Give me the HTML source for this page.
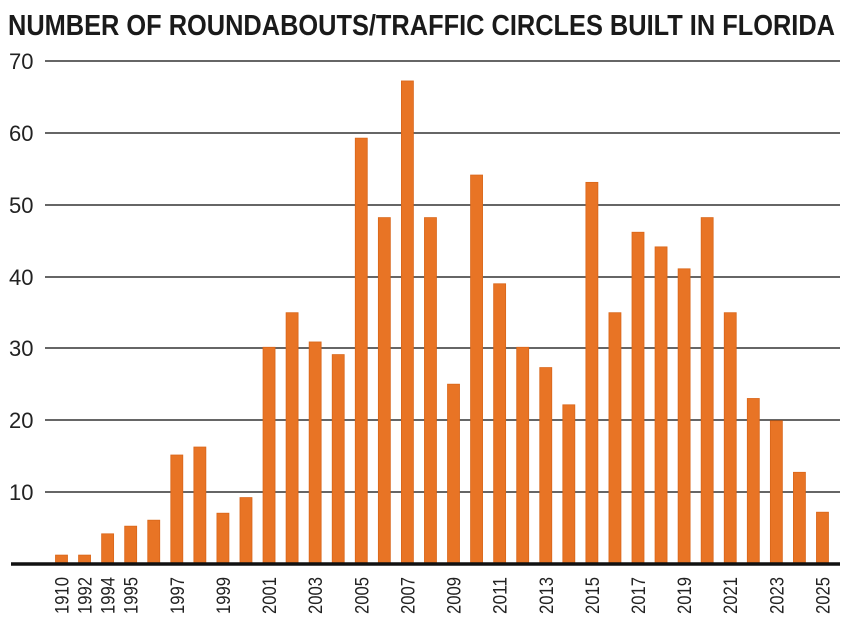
<!DOCTYPE html>
<html><head><meta charset="utf-8"><style>
html,body{margin:0;padding:0;background:#fff;}
svg{display:block;}
</style></head><body>
<svg width="850" height="623" xmlns="http://www.w3.org/2000/svg">
<text x="8" y="35" font-family="'Liberation Sans Narrow','Liberation Sans',sans-serif" font-weight="bold" font-size="29" fill="#1a1a1a" textLength="827" lengthAdjust="spacingAndGlyphs">NUMBER OF ROUNDABOUTS/TRAFFIC CIRCLES BUILT IN FLORIDA</text>
<g stroke="#333" stroke-width="1.5">
<line x1="45" y1="61" x2="840" y2="61"/>
<line x1="45" y1="133" x2="840" y2="133"/>
<line x1="45" y1="205" x2="840" y2="205"/>
<line x1="45" y1="277" x2="840" y2="277"/>
<line x1="45" y1="348" x2="840" y2="348"/>
<line x1="45" y1="420" x2="840" y2="420"/>
<line x1="45" y1="492" x2="840" y2="492"/>
</g>
<g font-family="'Liberation Sans',sans-serif" font-size="22" fill="#222">
<text x="9" y="69">70</text><text x="9" y="141">60</text><text x="9" y="213">50</text>
<text x="9" y="285">40</text><text x="9" y="356">30</text><text x="9" y="428">20</text><text x="9" y="500">10</text>
</g>
<g fill="#e87425" stroke="#d9661a" stroke-width="0.8" id="bars"></g>
<line x1="11" y1="564" x2="840" y2="564" stroke="#111" stroke-width="3.5"/>
<g font-family="'Liberation Sans',sans-serif" font-size="19" fill="#222" id="labels"></g>
<script>
(function(){
var zy=[1486,1486,1422,1399,1381,1185,1161,1360,1313,861,757,845,883,232,471,60,471,972,343,670,861,922,1034,365,757,515,559,625,471,757,1015,1082,1237,1357];
var ns="http://www.w3.org/2000/svg",b=document.getElementById('bars'),l=document.getElementById('labels');
var labs={0:"1910",1:"1992",2:"1994",3:"1995",5:"1997",7:"1999"};
for(var i=9;i<34;i+=2)labs[i]=String(2001+(i-9));
for(var i=0;i<34;i++){var x=55.5+i*23.06;var yt=61+zy[i]*0.3325;var r=document.createElementNS(ns,'rect');
r.setAttribute('x',x);r.setAttribute('y',yt);r.setAttribute('width',12);r.setAttribute('height',563-yt);b.appendChild(r);
if(labs[i]){var t=document.createElementNS(ns,'text');var cx=x+13;t.setAttribute('transform','translate('+cx+',614) rotate(-90)');t.setAttribute('textLength','37');t.setAttribute('lengthAdjust','spacingAndGlyphs');t.textContent=labs[i];l.appendChild(t);}}
})();
</script>
</svg>
</body></html>
